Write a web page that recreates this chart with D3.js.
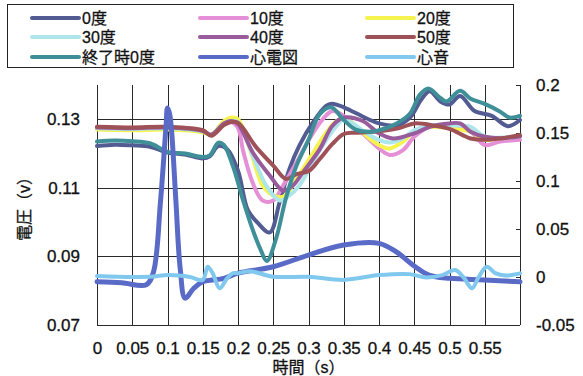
<!DOCTYPE html>
<html>
<head>
<meta charset="utf-8">
<script src="https://cdn.jsdelivr.net/npm/d3@7"></script>
<style>
  body { margin: 0; background: #fff; }
  svg { display: block; }
  text { font-family: "Liberation Sans", Arial, "Noto Sans CJK JP", sans-serif; fill: #111; stroke: #111; stroke-width: 0.3; }
</style>
</head>
<body>
<svg id="chart" width="583" height="376"></svg>
<script>
// time (s) / value pairs
const deg0 = [[0,0.1222],[0.025,0.1226],[0.05,0.1224],[0.075,0.122],[0.1,0.1203],[0.125,0.1197],[0.15,0.1186],[0.16,0.1192],[0.172,0.1222],[0.185,0.1212],[0.2,0.115],[0.214,0.1035],[0.228,0.0998],[0.245,0.097],[0.259,0.1058],[0.273,0.1155],[0.287,0.1223],[0.306,0.129],[0.325,0.1339],[0.333,0.1345],[0.35,0.1335],[0.382,0.1303],[0.4,0.1288],[0.425,0.1282],[0.444,0.1305],[0.46,0.1358],[0.472,0.1382],[0.487,0.1352],[0.5,0.1343],[0.515,0.1368],[0.535,0.1325],[0.56,0.131],[0.583,0.128],[0.6,0.1298]];
const deg10 = [[0,0.1272],[0.05,0.127],[0.1,0.1272],[0.15,0.1265],[0.162,0.1255],[0.18,0.1285],[0.19,0.1292],[0.2,0.1275],[0.207,0.121],[0.221,0.1114],[0.235,0.1063],[0.25,0.1063],[0.264,0.1107],[0.283,0.1174],[0.301,0.1242],[0.32,0.13],[0.334,0.1324],[0.35,0.131],[0.382,0.1249],[0.4,0.1215],[0.415,0.1196],[0.434,0.121],[0.45,0.1249],[0.472,0.1278],[0.5,0.128],[0.53,0.1264],[0.55,0.1225],[0.572,0.1235],[0.6,0.124]];
const deg20 = [[0,0.127],[0.05,0.1268],[0.1,0.127],[0.15,0.1262],[0.162,0.1255],[0.18,0.1295],[0.19,0.1305],[0.2,0.13],[0.217,0.1213],[0.235,0.1107],[0.25,0.1078],[0.265,0.1075],[0.283,0.1126],[0.301,0.1184],[0.325,0.1261],[0.34,0.1295],[0.35,0.13],[0.358,0.1296],[0.382,0.1252],[0.4,0.1225],[0.415,0.1215],[0.434,0.1235],[0.45,0.1264],[0.472,0.1278],[0.5,0.1274],[0.53,0.1264],[0.55,0.124],[0.572,0.1245],[0.6,0.125]];
const deg30 = [[0,0.1274],[0.05,0.1272],[0.1,0.1274],[0.15,0.1265],[0.162,0.1256],[0.18,0.1288],[0.19,0.1295],[0.2,0.1292],[0.221,0.1194],[0.24,0.1107],[0.259,0.1063],[0.273,0.1078],[0.287,0.1107],[0.301,0.1155],[0.32,0.1223],[0.34,0.1281],[0.35,0.13],[0.382,0.126],[0.4,0.124],[0.415,0.1232],[0.434,0.1245],[0.45,0.1268],[0.472,0.1282],[0.5,0.1282],[0.53,0.1278],[0.55,0.125],[0.6,0.125]];
const deg40 = [[0,0.1276],[0.05,0.1274],[0.1,0.1276],[0.15,0.1266],[0.162,0.1255],[0.18,0.1288],[0.19,0.1295],[0.2,0.1286],[0.221,0.1203],[0.245,0.1136],[0.264,0.1092],[0.278,0.1107],[0.292,0.1145],[0.316,0.1213],[0.334,0.1281],[0.35,0.1305],[0.377,0.1295],[0.39,0.1275],[0.4,0.1259],[0.42,0.1244],[0.45,0.1259],[0.472,0.1278],[0.5,0.1288],[0.515,0.1288],[0.53,0.1264],[0.55,0.1249],[0.572,0.1245],[0.6,0.125]];
const deg50 = [[0,0.1278],[0.05,0.1276],[0.1,0.1278],[0.15,0.1268],[0.162,0.1252],[0.18,0.1283],[0.19,0.1292],[0.2,0.129],[0.226,0.1218],[0.25,0.1165],[0.268,0.1126],[0.283,0.114],[0.301,0.115],[0.316,0.1184],[0.334,0.1228],[0.35,0.1257],[0.367,0.1261],[0.4,0.1265],[0.43,0.1275],[0.45,0.1288],[0.477,0.1282],[0.5,0.1272],[0.53,0.1244],[0.55,0.124],[0.572,0.1244],[0.6,0.1254]];
const endDeg0 = [[0,0.1235],[0.025,0.1238],[0.05,0.1236],[0.075,0.123],[0.1,0.1205],[0.125,0.12],[0.15,0.119],[0.16,0.1195],[0.172,0.1232],[0.18,0.1225],[0.193,0.1162],[0.207,0.1065],[0.221,0.0977],[0.232,0.092],[0.241,0.0887],[0.254,0.0952],[0.268,0.107],[0.283,0.1165],[0.3,0.124],[0.316,0.1315],[0.332,0.1335],[0.35,0.1298],[0.367,0.127],[0.39,0.1264],[0.4,0.1268],[0.425,0.1288],[0.444,0.1317],[0.458,0.1372],[0.47,0.139],[0.487,0.1362],[0.496,0.1352],[0.515,0.1383],[0.53,0.136],[0.55,0.1345],[0.572,0.1322],[0.585,0.1305],[0.6,0.131]];
const ecg = [[0,-0.005],[0.035,-0.006],[0.07,-0.008],[0.08,0.005],[0.09,0.078],[0.098,0.158],[0.1,0.176],[0.103,0.17],[0.106,0.15],[0.112,0.078],[0.118,0.009],[0.125,-0.022],[0.137,-0.012],[0.15,-0.005],[0.18,-0.0014],[0.2,0.004],[0.25,0.0107],[0.3,0.0229],[0.35,0.0333],[0.4,0.035],[0.424,0.0264],[0.45,0.0115],[0.471,0.002],[0.5,-0.0014],[0.55,-0.003],[0.6,-0.005]];
const heart = [[0,0.001],[0.05,0],[0.08,0.0005],[0.1,0.002],[0.132,0],[0.15,-0.003],[0.157,0.0107],[0.164,0.004],[0.174,-0.0118],[0.184,-0.002],[0.193,0.004],[0.2,0.004],[0.217,0.006],[0.25,0.0003],[0.3,0.0003],[0.35,-0.003],[0.4,0.002],[0.443,0.003],[0.467,-0.0005],[0.49,0.002],[0.508,0.0073],[0.52,-0.0005],[0.532,-0.0118],[0.541,-0.0005],[0.553,0.0107],[0.565,0.004],[0.579,0.0015],[0.6,0.0038]];

const seriesNames = ['0度', '10度', '20度', '30度', '40度', '50度', '終了時0度', '心電図', '心音'];
const seriesData = [deg0, deg10, deg20, deg30, deg40, deg50, endDeg0, ecg, heart];
const seriesAxis = ['L', 'L', 'L', 'L', 'L', 'L', 'L', 'R', 'R'];
const seriesColors = ['#525c92', '#e48fd6', '#f6f24e', '#ade6ea', '#985c9c', '#9f5158', '#3f8f99', '#5a6bc7', '#80c8ee'];

const xTicks = [0, 0.05, 0.1, 0.15, 0.2, 0.25, 0.3, 0.35, 0.4, 0.45, 0.5, 0.55];
const xGrid = [0, 0.05, 0.1, 0.15, 0.2, 0.25, 0.3, 0.35, 0.4, 0.45, 0.5, 0.55, 0.6];
const leftTicks = [0.07, 0.09, 0.11, 0.13];
const rightTicks = [-0.05, 0, 0.05, 0.1, 0.15, 0.2];

const svg = d3.select('#chart');
const plot = { left: 97, right: 520, top: 85, bottom: 325 };

const x = d3.scaleLinear().domain([0, 0.6]).range([plot.left, plot.right]);
const yL = d3.scaleLinear().domain([0.07, 0.14]).range([plot.bottom, plot.top]);
const yR = d3.scaleLinear().domain([-0.05, 0.2]).range([plot.bottom, plot.top]);

// grid
const grid = svg.append('g').attr('stroke', '#2a2a2a').attr('stroke-width', 1);
grid.selectAll('line.h').data(leftTicks).enter().append('line')
  .attr('x1', plot.left).attr('x2', plot.right)
  .attr('y1', d => Math.round(yL(d)) + 0.5).attr('y2', d => Math.round(yL(d)) + 0.5);
grid.selectAll('line.v').data(xGrid).enter().append('line')
  .attr('y1', plot.top).attr('y2', plot.bottom)
  .attr('x1', d => Math.round(x(d)) + 0.5).attr('x2', d => Math.round(x(d)) + 0.5);

// axes
const fmt = d => String(+d.toFixed(2));

const gLeft = svg.append('g').attr('transform', `translate(${plot.left},0)`)
  .call(d3.axisLeft(yL).tickValues(leftTicks).tickSize(0).tickPadding(17).tickFormat(d3.format('.2f')));
const gRight = svg.append('g').attr('transform', `translate(${plot.right},0)`)
  .call(d3.axisRight(yR).tickValues(rightTicks).tickSizeInner(-4).tickSizeOuter(0).tickPadding(16).tickFormat(fmt));
const gBottom = svg.append('g').attr('transform', `translate(0,${plot.bottom})`)
  .call(d3.axisBottom(x).tickValues(xTicks).tickSize(0).tickPadding(17).tickFormat(fmt));

[gLeft, gRight, gBottom].forEach(g => {
  g.select('.domain').remove();
  g.selectAll('text').attr('font-size', 17).attr('fill', '#111')
    .style('font-family', '"Liberation Sans", Arial, sans-serif');
  g.selectAll('line').attr('stroke', '#2a2a2a');
});

// series
const line = d3.line().curve(d3.curveCatmullRom.alpha(0.5));
seriesData.forEach((data, i) => {
  const y = seriesAxis[i] === 'L' ? yL : yR;
  svg.append('path')
    .datum(data.map(p => [x(p[0]), y(p[1])]))
    .attr('d', line)
    .attr('fill', 'none')
    .attr('stroke', seriesColors[i])
    .attr('stroke-width', i === 7 ? 5 : 4)
    .attr('stroke-linecap', 'round')
    .attr('stroke-linejoin', 'round');
});

// axis titles
svg.append('text').attr('x', (plot.left + plot.right) / 2).attr('y', 373)
  .attr('text-anchor', 'middle').attr('font-size', 16).text('時間（s）');
svg.append('text').attr('transform', `translate(30,${(plot.top + plot.bottom) / 2}) rotate(-90)`)
  .attr('text-anchor', 'middle').attr('font-size', 16).text('電圧（v）');

// legend
svg.append('rect').attr('x', 7.5).attr('y', 4.5).attr('width', 506).attr('height', 63)
  .attr('fill', '#fff').attr('stroke', '#222').attr('stroke-width', 1);
const colX = [32, 200, 367];
const rowY = [18, 37, 57];
const legend = svg.append('g');
seriesNames.forEach((name, i) => {
  const cx = colX[i % 3];
  const cy = rowY[Math.floor(i / 3)];
  legend.append('line').attr('x1', cx).attr('x2', cx + 47).attr('y1', cy).attr('y2', cy)
    .attr('stroke', seriesColors[i]).attr('stroke-width', 4).attr('stroke-linecap', 'round');
  legend.append('text').attr('x', cx + 50).attr('y', cy + 6).attr('font-size', 16).text(name);
});
</script>
</body>
</html>
